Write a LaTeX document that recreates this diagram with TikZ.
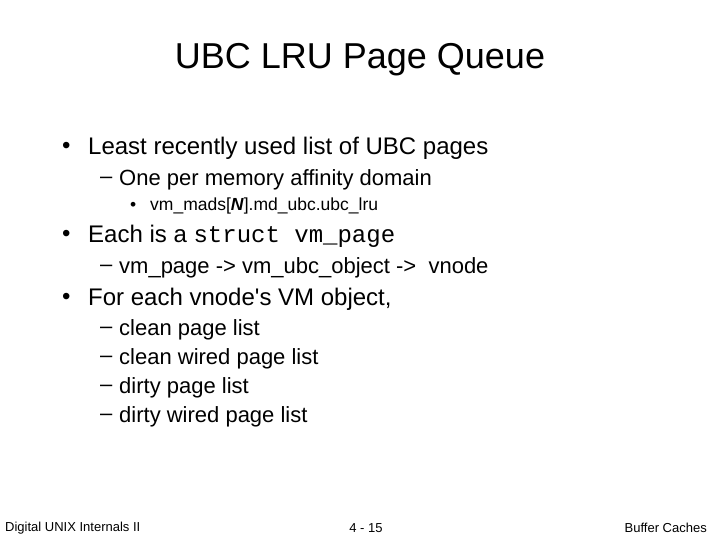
\documentclass[tikz,border=0pt]{standalone}
\usepackage{fontspec}
\setmainfont{Liberation Sans}
\setmonofont{Liberation Mono}
\begin{document}
\begin{tikzpicture}[x=1pt,y=-1pt,
  every node/.style={inner sep=0pt,anchor=west},
  t0/.style={font=\fontsize{36}{40}\selectfont,anchor=center},
  t1/.style={font=\fontsize{24}{28}\selectfont},
  t2/.style={font=\fontsize{22}{26}\selectfont},
  t3/.style={font=\fontsize{17.5}{20}\selectfont},
  ft/.style={font=\fontsize{13}{15}\selectfont}]
\useasboundingbox (0,0) rectangle (720,540);
\node[t0] (title) at (360,60) {UBC LRU Page Queue};
\node[t1] (b1) at (62,148) {•}; \node[t1] (l1) at (88,148) {Least recently used list of UBC pages};
\node[t2] (d1) at (100,180) {–}; \node[t2] (l2) at (119,180) {One per memory affinity domain};
\node[t3] (b3) at (130,206) {•}; \node[t3] (l3) at (150,206) {vm\_mads[\textit{\textbf{N}}].md\_ubc.ubc\_lru};
\node[t1] (b2) at (62,236) {•}; \node[t1] (l4) at (88,236) {Each is a \texttt{\fontsize{24}{28}\selectfont struct vm\_page}};
\node[t2] (d2) at (100,268) {–}; \node[t2] (l5) at (119,268) {vm\_page -> vm\_ubc\_object ->\ \ vnode};
\node[t1] (b4) at (62,299) {•}; \node[t1] (l6) at (88,299) {For each vnode\textquotesingle s VM object,};
\node[t2] (d3) at (100,330) {–}; \node[t2] (l7) at (119,330) {clean page list};
\node[t2] (d4) at (100,359) {–}; \node[t2] (l8) at (119,359) {clean wired page list};
\node[t2] (d5) at (100,388) {–}; \node[t2] (l9) at (119,388) {dirty page list};
\node[t2] (d6) at (100,417) {–}; \node[t2] (l10) at (119,417) {dirty wired page list};
\node[ft] (f1) at (5,528) {Digital UNIX Internals II};
\node[ft,anchor=center] (f2) at (366,528) {4 - 15};
\node[ft,anchor=east] (f3) at (707,528) {Buffer Caches};
\end{tikzpicture}
\end{document}
